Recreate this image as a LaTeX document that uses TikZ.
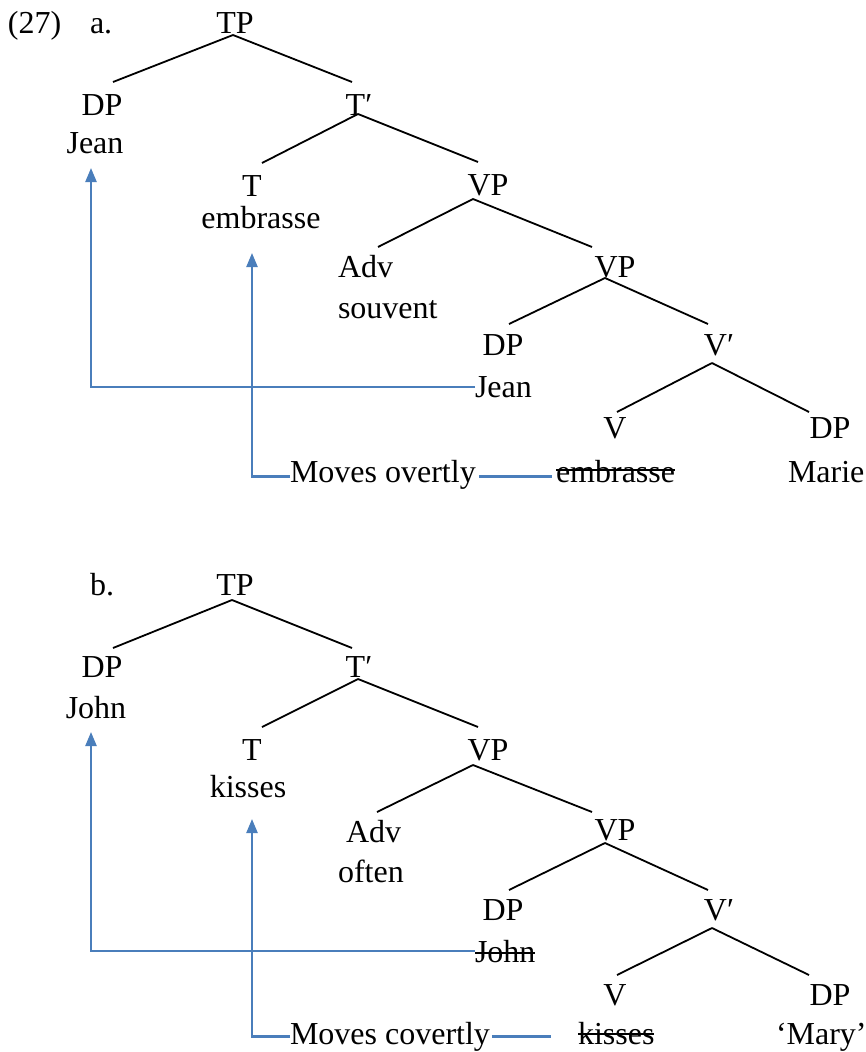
\documentclass[tikz,border=0pt]{standalone}
\usepackage{fontspec}
\setmainfont{Liberation Serif}
\usetikzlibrary{arrows.meta}
\definecolor{mvblue}{RGB}{74,126,187}
\begin{document}
\begin{tikzpicture}[x=1pt,y=-1pt,
  lbl/.style={inner sep=0pt,outer sep=0pt,anchor=base,font=\fontsize{32}{37}\selectfont},
  lbw/.style={lbl,anchor=base west},
  edge/.style={line width=1.8pt,black},
  strike/.style={line width=1.6pt,black},
  mv/.style={line width=2.3pt,mvblue},
  mvarrow/.style={mv,-{Triangle[length=14pt,width=11pt]}}]
\useasboundingbox (0,0) rectangle (866,1052);

% ---------- (27a) ----------
\node[lbw] (num) at (8,33) {(27)};
\node[lbw] (la) at (90,33) {a.};
\node[lbl] (tpa) at (235,33) {TP};
\node[lbl] (dpa) at (102,115) {DP};
\node[lbl] (tba) at (359,115) {T′};
\node[lbl] (jeana) at (95,153) {Jean};
\node[lbl] (ta) at (252,196) {T};
\node[lbl] (emba) at (261,228) {embrasse};
\node[lbl] (vpa) at (488,195) {VP};
\node[lbw] (adva) at (338,277) {Adv};
\node[lbw] (souvent) at (338,318) {souvent};
\node[lbl] (vpba) at (615,277) {VP};
\node[lbl] (dpba) at (503,355) {DP};
\node[lbl] (vba) at (719,355) {V′};
\node[lbw] (jeanlow) at (475,397) {Jean};
\node[lbl] (va) at (615,438) {V};
\node[lbl] (dpca) at (830,438) {DP};
\node[lbw] (movesa) at (290,482) {Moves overtly};
\node[lbw] (embs) at (556,482) {embrasse};
\node[lbw] (marie) at (788,482) {Marie};

\draw[edge] ([xshift=-2pt,yshift=-2pt]tpa.base) -- ([xshift=11pt,yshift=33pt]dpa.base);
\draw[edge] ([xshift=-2pt,yshift=-2pt]tpa.base) -- ([xshift=-7pt,yshift=33pt]tba.base);
\draw[edge] ([xshift=-1pt,yshift=1pt]tba.base) -- ([xshift=10pt,yshift=33pt]ta.base);
\draw[edge] ([xshift=-1pt,yshift=1pt]tba.base) -- ([xshift=-10pt,yshift=33pt]vpa.base);
\draw[edge] ([xshift=-15pt,yshift=-4pt]vpa.base) -- ([xshift=40pt,yshift=30pt]adva.base west);
\draw[edge] ([xshift=-15pt,yshift=-4pt]vpa.base) -- ([xshift=-23pt,yshift=30pt]vpba.base);
\draw[edge] ([xshift=-10pt,yshift=-1pt]vpba.base) -- ([xshift=6pt,yshift=31pt]dpba.base);
\draw[edge] ([xshift=-10pt,yshift=-1pt]vpba.base) -- ([xshift=-11pt,yshift=31pt]vba.base);
\draw[edge] ([xshift=-7pt,yshift=-8pt]vba.base) -- ([xshift=2pt,yshift=26pt]va.base);
\draw[edge] ([xshift=-7pt,yshift=-8pt]vba.base) -- ([xshift=-21pt,yshift=26pt]dpca.base);

\draw[strike] ([yshift=12pt]embs.base west) -- ([yshift=12pt]embs.base east);

\draw[mvarrow] (jeanlow.west) -| ([xshift=-4pt,yshift=-15pt]jeana.base);
\draw[mvarrow] ([yshift=-2pt]movesa.west) -| ([yshift=-57pt]ta.base);
\draw[mv,shorten <=3pt,shorten >=4pt] ([yshift=-2pt]movesa.east) -- ([yshift=-2pt]movesa.east -| embs.west);

% ---------- (27b) ----------
\node[lbw] (lb) at (90,595) {b.};
\node[lbl] (tpb) at (235,595) {TP};
\node[lbl] (dpb) at (102,677) {DP};
\node[lbl] (tbb) at (359,677) {T′};
\node[lbl] (johnb) at (96,718) {John};
\node[lbl] (tb) at (252,760) {T};
\node[lbl] (kissesb) at (248,797) {kisses};
\node[lbl] (vpb) at (488,760) {VP};
\node[lbw] (advb) at (346,842) {Adv};
\node[lbw] (often) at (338,882) {often};
\node[lbl] (vpbb) at (615,840) {VP};
\node[lbl] (dpbb) at (503,920) {DP};
\node[lbl] (vbb) at (719,920) {V′};
\node[lbw] (johnlow) at (475,962) {John};
\node[lbl] (vb) at (615,1005) {V};
\node[lbl] (dpcb) at (830,1005) {DP};
\node[lbw] (movesb) at (290,1044) {Moves covertly};
\node[lbw] (kissess) at (578,1044) {kisses};
\node[lbw] (mary) at (776,1044) {`Mary'};

\draw[edge] ([xshift=-3pt,yshift=-5pt]tpb.base) -- ([xshift=11pt,yshift=29pt]dpb.base);
\draw[edge] ([xshift=-3pt,yshift=-5pt]tpb.base) -- ([xshift=-7pt,yshift=29pt]tbb.base);
\draw[edge] ([xshift=-1pt,yshift=-2pt]tbb.base) -- ([xshift=10pt,yshift=33pt]tb.base);
\draw[edge] ([xshift=-1pt,yshift=-2pt]tbb.base) -- ([xshift=-10pt,yshift=33pt]vpb.base);
\draw[edge] ([xshift=-15pt,yshift=-5pt]vpb.base) -- ([xshift=31pt,yshift=30pt]advb.base west);
\draw[edge] ([xshift=-15pt,yshift=-5pt]vpb.base) -- ([xshift=-23pt,yshift=28pt]vpbb.base);
\draw[edge] ([xshift=-10pt,yshift=-3pt]vpbb.base) -- ([xshift=6pt,yshift=30pt]dpbb.base);
\draw[edge] ([xshift=-10pt,yshift=-3pt]vpbb.base) -- ([xshift=-11pt,yshift=30pt]vbb.base);
\draw[edge] ([xshift=-7pt,yshift=-8pt]vbb.base) -- ([xshift=2pt,yshift=30pt]vb.base);
\draw[edge] ([xshift=-7pt,yshift=-8pt]vbb.base) -- ([xshift=-21pt,yshift=30pt]dpcb.base);

\draw[strike] ([yshift=9pt]johnlow.base west) -- ([yshift=9pt]johnlow.base east);
\draw[strike] ([yshift=10pt]kissess.base west) -- ([yshift=10pt]kissess.base east);

\draw[mvarrow] (johnlow.west) -| ([xshift=-5pt,yshift=-14pt]johnb.base);
\draw[mvarrow] (movesb.west) -| ([yshift=-59pt]tb.base);
\draw[mv,shorten <=2pt,shorten >=27pt] (movesb.east) -- (movesb.east -| kissess.west);
\end{tikzpicture}
\end{document}
